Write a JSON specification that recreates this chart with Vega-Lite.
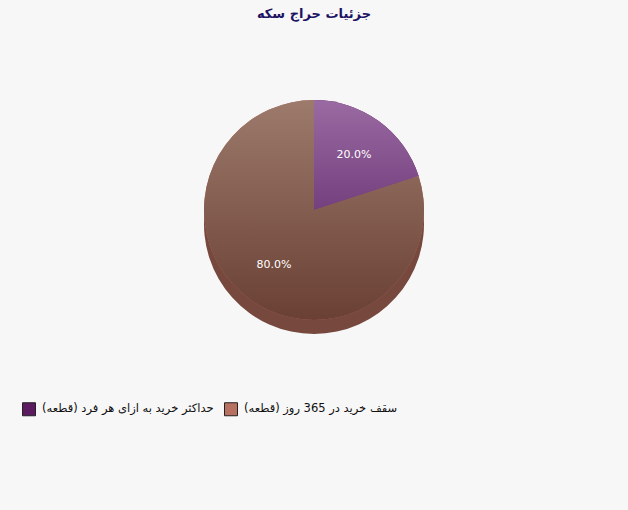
{
  "$schema": "https://vega.github.io/schema/vega-lite/v6.json",
  "background": "#f7f7f7",
  "padding": {"left": 22, "right": 22, "top": 8, "bottom": 94},
  "width": 584,
  "height": 368,
  "title": {
    "text": "جزئیات حراج سکه",
    "fontSize": 13,
    "fontWeight": "bold",
    "font": "DejaVu Sans",
    "color": "#1c1464",
    "anchor": "middle",
    "offset": 5
  },
  "data": {
    "values": [
      {"category": "حداکثر خرید به ازای هر فرد (قطعه)", "share": 0.2, "rank": 1},
      {"category": "سقف خرید در 365 روز (قطعه)", "share": 0.8, "rank": 2}
    ]
  },
  "encoding": {
    "theta": {"field": "share", "type": "quantitative", "stack": true},
    "order": {"field": "rank", "type": "quantitative"}
  },
  "layer": [
    {
      "mark": {"type": "arc", "outerRadius": 110, "yOffset": 14},
      "encoding": {
        "fill": {
          "condition": {"test": "datum.rank == 1", "value": "#6a3a72"},
          "value": "#76483e"
        }
      }
    },
    {
      "mark": {"type": "arc", "outerRadius": 110},
      "encoding": {
        "color": {
          "field": "category",
          "type": "nominal",
          "scale": {
            "domain": ["حداکثر خرید به ازای هر فرد (قطعه)", "سقف خرید در 365 روز (قطعه)"],
            "range": ["#5c1a60", "#b87060"]
          },
          "legend": {
            "title": null,
            "orient": "bottom",
            "direction": "horizontal",
            "offset": 8,
            "padding": 0
          }
        }
      }
    },
    {
      "mark": {"type": "arc", "outerRadius": 110},
      "encoding": {
        "fill": {
          "condition": {
            "test": "datum.rank == 1",
            "value": {
              "gradient": "linear", "x1": 0, "y1": 0, "x2": 0, "y2": 1,
              "stops": [{"offset": 0, "color": "#9a6aa2"}, {"offset": 1, "color": "#74407e"}]
            }
          },
          "value": {
            "gradient": "linear", "x1": 0, "y1": 0, "x2": 0, "y2": 1,
            "stops": [{"offset": 0, "color": "#9c7a6c"}, {"offset": 1, "color": "#6a4034"}]
          }
        }
      }
    },
    {
      "mark": {"type": "text", "radius": 68, "color": "white", "font": "DejaVu Sans", "fontSize": 11},
      "encoding": {
        "text": {"field": "share", "type": "quantitative", "format": ".1%"}
      }
    }
  ],
  "config": {
    "view": {"stroke": null},
    "legend": {
      "symbolType": "square",
      "symbolSize": 169,
      "symbolStrokeColor": "#222222",
      "symbolStrokeWidth": 1,
      "symbolOpacity": 1,
      "labelFont": "DejaVu Sans",
      "labelFontSize": 11.5,
      "labelColor": "#111111",
      "labelOffset": 6,
      "columnPadding": 8,
      "labelLimit": 400
    }
  }
}
